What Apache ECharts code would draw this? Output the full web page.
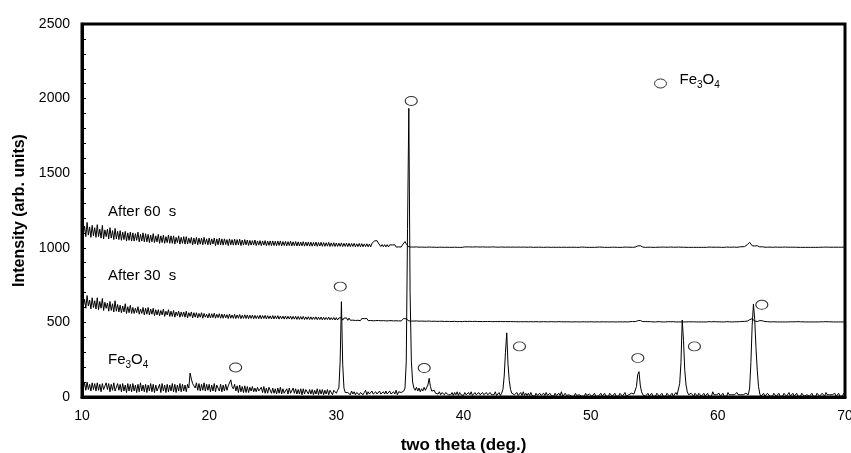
<!DOCTYPE html>
<html>
<head>
<meta charset="utf-8">
<script src="https://cdn.jsdelivr.net/npm/echarts@6/dist/echarts.min.js"></script>
<style>html,body{margin:0;padding:0;background:#fff}#c{width:851px;height:453px}</style>
</head>
<body>
<div id="c"></div>
<script>
// x grid of all three patterns: 10.0 .. 70.0 deg, step 0.1 deg
const thetaStart = 10;
const thetaStep = 0.1;

const fe3o4 = [
110,55,95,45,100,50,85,40,95,50,
90,40,95,45,85,35,90,50,40,95,
50,90,35,85,45,95,40,35,90,45,
85,35,90,40,80,30,90,40,85,35,
90,40,80,30,85,35,95,40,80,35,
85,30,80,40,90,35,85,30,80,40,
35,85,30,90,40,80,30,85,35,80,
40,90,35,85,30,80,40,90,35,85,
40,80,35,85,60,160,120,90,75,60,
95,45,90,40,85,45,95,40,85,45,
85,35,80,40,90,35,80,85,40,85,
35,80,40,85,45,75,80,115,70,55,
85,40,75,30,80,35,70,30,75,30,
70,30,65,40,70,35,60,35,65,40,
30,65,30,70,25,60,25,65,60,25,
60,25,55,20,60,25,65,20,55,25,
25,55,20,60,25,20,60,25,55,20,
50,20,55,15,55,20,50,55,20,50,
20,50,15,45,20,55,15,50,20,50,
15,45,20,50,15,45,50,15,45,50,
25,45,60,240,639,220,60,30,25,30,
35,15,40,20,35,15,30,40,15,30,
40,15,30,45,15,35,20,15,40,20,
15,35,20,15,40,20,15,35,20,40,
20,15,40,20,15,35,20,45,15,35,
25,30,35,40,60,240,1130,1935,700,240,
100,60,45,65,40,60,35,55,40,65,
45,55,80,125,70,40,30,45,25,35,
20,35,15,30,35,15,30,35,15,25,
15,30,10,30,15,35,10,30,15,25,
10,30,15,10,30,15,35,10,15,30,
15,10,30,15,10,30,15,10,30,15,
10,30,15,10,15,35,10,15,30,10,
25,50,140,300,430,220,110,50,25,15,
15,10,30,10,15,30,10,35,10,25,
10,25,10,30,10,20,5,25,10,20,
25,10,5,25,10,30,10,5,25,10,
10,5,25,10,5,25,10,35,5,15,
25,10,5,15,25,5,15,5,25,10,
5,15,25,5,15,5,25,10,5,20,
15,5,15,25,5,15,5,15,25,5,
15,25,5,15,5,25,15,5,15,25,
5,15,5,25,15,5,15,30,5,15,
15,5,25,15,20,25,70,150,170,80,
35,15,25,5,15,25,5,15,25,5,
15,5,25,15,5,15,25,5,15,5,
25,15,5,15,25,5,15,30,15,15,
90,230,516,380,180,80,35,15,5,25,
15,5,25,15,5,25,15,5,15,25,
5,15,25,5,15,5,35,15,5,15,
15,25,5,15,25,5,15,5,30,15,
5,15,25,15,5,30,15,5,15,25,
15,5,25,15,15,60,230,480,623,520,
330,180,70,20,5,15,25,5,15,25,
25,5,15,5,25,15,5,15,25,5,
15,5,25,15,5,15,30,5,15,25,
5,15,25,5,15,5,25,15,5,15,
15,25,5,15,25,5,15,5,25,15,
5,15,25,15,5,30,15,5,15,25,
15,5,25,5,15,25,5,15,5,25,
15
];

const after30 = [
670,605,655,595,680,610,650,590,665,600,
645,590,665,585,640,595,660,580,635,595,
630,575,640,580,625,570,645,575,620,570,
615,565,610,570,625,560,605,565,615,560,
600,560,595,565,605,555,590,560,600,550,
595,555,600,550,590,555,595,545,585,550,
585,545,580,550,590,540,575,550,585,540,
575,540,580,535,570,545,575,535,570,540,
570,535,575,530,565,540,570,530,565,535,
565,530,560,535,565,528,560,535,555,530,
560,530,558,532,562,528,555,532,558,528,
556,528,555,530,552,526,556,528,550,527,
554,526,550,528,553,525,548,527,551,526,
550,525,548,527,549,524,547,526,545,525,
548,524,546,526,547,523,545,525,544,523,
546,523,544,524,545,522,543,524,542,522,
543,522,541,523,542,521,540,522,541,520,
540,520,539,521,540,519,537,520,538,519,
537,519,536,520,537,518,535,519,536,517,
534,518,533,519,535,517,532,518,533,516,
532,516,530,517,531,515,529,516,530,514,
529,514,527,515,528,513,526,514,527,512,
526,513,525,514,526,512,524,513,525,511,
524,512,523,513,522,511,523,512,521,510,
522,511,521,512,520,510,521,511,519,510,
520,510,522,526,532,524,518,510,517,509,
518,509,517,510,516,508,517,509,515,508,
516,508,515,509,514,507,515,508,514,507,
514,507,513,508,513,506,512,507,513,506,
513,506,512,507,512,505,511,506,512,505,
509,507,510,506,509,507,510,506,508,507,
508,506,509,506,508,505,509,506,507,506,
508,506,507,505,508,506,507,505,508,506,
507,505,508,506,507,505,507,506,508,505,
507,505,506,504,507,505,506,504,507,505,
506,504,507,505,506,504,506,505,507,504,
506,504,506,505,507,504,506,504,506,505,
506,504,507,504,506,505,506,504,505,504,
505,504,506,504,505,503,506,504,505,504,
505,503,506,504,505,504,505,503,506,504,
505,504,505,503,506,504,505,503,505,504,
505,503,506,504,505,503,505,504,505,503,
505,503,505,504,505,503,506,504,505,503,
504,505,503,506,504,505,506,511,521,513,
508,505,504,506,504,505,503,505,504,503,
505,503,504,505,503,504,505,503,504,503,
504,505,503,504,503,505,504,503,504,503,
504,503,505,503,504,503,505,504,503,504,
503,504,505,503,504,503,505,503,504,503,
504,503,504,505,503,504,503,505,503,504,
503,504,505,503,504,503,504,505,503,504,
504,503,505,504,503,504,503,505,504,506,
505,507,504,508,511,518,528,525,515,509,
508,506,509,512,515,511,508,506,504,505,
504,503,505,504,503,504,505,503,504,503,
504,503,505,503,504,503,505,504,503,504,
503,504,503,505,503,504,503,504,505,503,
504,503,504,503,505,503,504,503,504,503,
503,504,503,504,503,505,503,504,503,504,
504,503,504,503,504,503,504,503,504,503,
503
];

const after60 = [
1160,1090,1145,1075,1170,1085,1140,1070,1150,1080,
1135,1070,1155,1075,1125,1065,1150,1060,1120,1075,
1125,1060,1135,1065,1115,1055,1130,1060,1110,1055,
1115,1050,1105,1055,1110,1045,1100,1050,1105,1045,
1100,1045,1095,1050,1105,1040,1090,1045,1100,1040,
1095,1040,1090,1035,1085,1040,1095,1035,1080,1040,
1090,1030,1080,1035,1085,1030,1075,1035,1085,1030,
1080,1030,1080,1025,1070,1035,1080,1025,1070,1030,
1075,1025,1075,1025,1065,1030,1070,1020,1065,1025,
1070,1020,1065,1025,1065,1020,1070,1025,1060,1020,
1065,1020,1060,1025,1065,1015,1060,1020,1065,1020,
1060,1018,1060,1022,1055,1015,1060,1020,1055,1018,
1058,1018,1055,1020,1058,1015,1052,1018,1055,1020,
1052,1016,1050,1018,1048,1020,1052,1015,1046,1018,
1048,1015,1046,1018,1048,1014,1045,1016,1046,1015,
1046,1015,1044,1014,1045,1016,1046,1013,1042,1015,
1043,1013,1041,1015,1044,1012,1040,1014,1042,1012,
1040,1012,1039,1013,1041,1011,1038,1013,1039,1011,
1038,1011,1036,1012,1038,1010,1035,1012,1037,1010,
1035,1010,1034,1011,1036,1009,1033,1010,1034,1009,
1032,1009,1031,1010,1033,1008,1030,1009,1031,1008,
1030,1008,1029,1009,1030,1007,1027,1008,1029,1007,
1028,1007,1026,1008,1027,1007,1025,1006,1030,1036,
1046,1055,1048,1032,1022,1008,1022,1007,1021,1006,
1021,1006,1020,1007,1019,1006,1020,1005,1018,1006,
1018,1005,1019,1024,1042,1026,1017,1006,1016,1005,
1016,1005,1015,1006,1015,1004,1014,1005,1014,1004,
1014,1004,1013,1005,1013,1004,1012,1004,1012,1003,
1012,1004,1011,1004,1012,1003,1011,1004,1011,1003,
1011,1003,1010,1004,1011,1003,1010,1003,1010,1003,
1009,1006,1008,1006,1009,1006,1008,1005,1008,1006,
1008,1006,1007,1005,1008,1006,1007,1005,1008,1005,
1007,1005,1008,1006,1007,1005,1007,1004,1007,1005,
1007,1005,1006,1004,1007,1005,1006,1004,1007,1005,
1006,1004,1007,1005,1006,1004,1006,1005,1006,1004,
1006,1004,1006,1005,1006,1003,1006,1004,1005,1004,
1006,1004,1005,1003,1006,1004,1005,1004,1006,1003,
1005,1004,1006,1003,1005,1004,1005,1003,1006,1004,
1005,1003,1005,1004,1005,1003,1005,1004,1005,1003,
1005,1003,1004,1005,1003,1004,1005,1003,1004,1003,
1005,1003,1004,1003,1005,1004,1003,1005,1003,1004,
1004,1003,1005,1003,1004,1003,1005,1004,1003,1004,
1004,1003,1005,1003,1004,1003,1004,1005,1003,1004,
1003,1004,1005,1003,1004,1005,1007,1012,1022,1014,
1008,1005,1004,1003,1005,1004,1003,1004,1005,1003,
1004,1003,1005,1004,1003,1004,1003,1005,1003,1004,
1003,1004,1003,1005,1003,1004,1003,1004,1003,1005,
1003,1004,1003,1004,1005,1003,1004,1003,1004,1003,
1004,1003,1005,1003,1004,1003,1004,1003,1005,1003,
1004,1003,1004,1005,1003,1004,1003,1004,1003,1004,
1003,1004,1005,1003,1004,1003,1004,1005,1003,1004,
1003,1004,1003,1005,1004,1003,1004,1006,1005,1007,
1006,1008,1012,1020,1032,1037,1024,1014,1010,1012,
1009,1014,1008,1006,1010,1007,1005,1004,1006,1004,
1003,1005,1004,1003,1004,1005,1003,1004,1003,1004,
1003,1004,1003,1005,1003,1004,1003,1004,1003,1004,
1003,1004,1005,1003,1004,1003,1004,1003,1004,1003,
1004,1003,1004,1003,1005,1003,1004,1003,1004,1003,
1003,1004,1003,1004,1003,1005,1003,1004,1003,1004,
1003,1004,1003,1004,1003,1004,1003,1004,1003,1004,
1003
];

// Fe3O4 peak markers (open circles)
const markerTheta = [22.08, 30.31, 35.89, 36.91, 44.40, 53.71, 58.16, 63.46];
const markerIntensity = [198, 740, 1984, 194, 339, 261, 339, 618];

const xTicks = [10, 20, 30, 40, 50, 60, 70];
const yTicks = [0, 500, 1000, 1500, 2000, 2500];

function toPairs(ys) {
  return ys.map((y, i) => [Math.round((thetaStart + i * thetaStep) * 10) / 10, y]);
}

const FONT = '"Liberation Sans", Arial, sans-serif';
const ellipse = 'path://M0,4.5A6,4.5,0,1,1,12,4.5A6,4.5,0,1,1,0,4.5Z';

const lineBase = {
  type: 'line', showSymbol: false, symbol: 'none', silent: true,
  lineStyle: { color: '#000', width: 1 }, emphasis: { disabled: true }, z: 2
};

const chart = echarts.init(document.getElementById('c'), null, { renderer: 'canvas' });
chart.setOption({
  animation: false,
  backgroundColor: '#fff',
  grid: { left: 82, right: 6, top: 24, bottom: 56, show: true, borderColor: '#000', borderWidth: 3,
          containLabel: false, outerBoundsMode: 'none' },
  legend: {
    show: true,
    left: 649, top: 67,
    data: [{ name: 'Fe3O4', icon: ellipse, itemStyle: { color: '#fff', borderColor: '#000', borderWidth: 1 } }],
    itemWidth: 12, itemHeight: 9, itemGap: 0,
    selectedMode: false,
    formatter: () => '{g|}{a|Fe}{s|3}{a|O}{s|4}',
    textStyle: {
      color: '#000', fontFamily: FONT, fontSize: 15,
      rich: {
        g: { width: 8 },
        a: { fontSize: 15, fontFamily: FONT, color: '#000', padding: [0, 0, 8, 0] },
        s: { fontSize: 10, fontFamily: FONT, color: '#000', verticalAlign: 'bottom', padding: [0, 0, 5, 0] }
      }
    }
  },
  xAxis: {
    type: 'value', min: xTicks[0], max: xTicks[xTicks.length - 1], interval: 10,
    name: 'two theta (deg.)', nameLocation: 'middle', nameGap: 40,
    nameTextStyle: { fontFamily: FONT, fontSize: 17, fontWeight: 'bold', color: '#000' },
    axisLine: { show: true, lineStyle: { color: '#000', width: 3 } },
    axisTick: { show: false },
    splitLine: { show: false },
    axisLabel: { fontFamily: FONT, fontSize: 14, color: '#000', margin: 12, showMaxLabel: true, showMinLabel: true }
  },
  yAxis: {
    type: 'value', min: yTicks[0], max: yTicks[yTicks.length - 1], interval: 500,
    name: 'Intensity (arb. units)', nameLocation: 'middle', nameGap: 51,
    nameTextStyle: { fontFamily: FONT, fontSize: 16, fontWeight: 'bold', color: '#000' },
    axisLine: { show: true, lineStyle: { color: '#000', width: 3 } },
    axisTick: { show: true, inside: true, length: 4, lineStyle: { color: '#000', width: 1 } },
    minorTick: { show: true, splitNumber: 5, length: 4, lineStyle: { color: '#000', width: 1 } },
    splitLine: { show: false },
    axisLabel: { fontFamily: FONT, fontSize: 14, color: '#000', margin: 12, formatter: (v) => String(v) }
  },
  graphic: [
    { type: 'text', x: 108, y: 211.5, silent: true,
      style: { text: 'After 60  s', font: '15px ' + FONT, fill: '#000', verticalAlign: 'middle' } },
    { type: 'text', x: 108, y: 276, silent: true,
      style: { text: 'After 30  s', font: '15px ' + FONT, fill: '#000', verticalAlign: 'middle' } },
    { type: 'text', x: 108, y: 361, silent: true,
      style: {
        text: '{a|Fe}{s|3}{a|O}{s|4}', verticalAlign: 'middle', fill: '#000',
        rich: {
          a: { font: '15px ' + FONT, fill: '#000', padding: [0, 0, 3, 0] },
          s: { font: '10px ' + FONT, fill: '#000', verticalAlign: 'bottom' }
        }
      } }
  ],
  series: [
    Object.assign({ name: 'After 60 s', data: toPairs(after60) }, lineBase),
    Object.assign({ name: 'After 30 s', data: toPairs(after30) }, lineBase),
    Object.assign({ name: 'Fe3O4 pattern', data: toPairs(fe3o4) }, lineBase),
    {
      name: 'Fe3O4', type: 'scatter', symbol: ellipse, symbolSize: [12, 9], z: 5, silent: true,
      itemStyle: { color: '#fff', borderColor: '#000', borderWidth: 1 },
      emphasis: { disabled: true },
      data: markerTheta.map((t, i) => [t, markerIntensity[i]])
    }
  ]
});
</script>
</body>
</html>
